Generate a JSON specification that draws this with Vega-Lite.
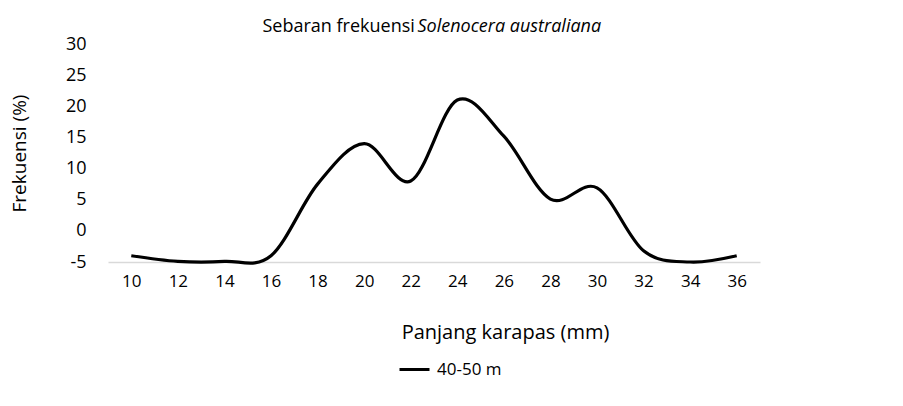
{
  "$schema": "https://vega.github.io/schema/vega-lite/v6.json",
  "autosize": {"type": "none"},
  "width": 652,
  "height": 218,
  "padding": {"left": 108, "top": 44, "right": 143, "bottom": 144},
  "background": "white",
  "config": {"view": {"stroke": null}},
  "data": {
    "values": [
      {"mm": 10, "pct": -4.0, "series": "40-50 m"},
      {"mm": 12, "pct": -4.9, "series": "40-50 m"},
      {"mm": 14, "pct": -4.9, "series": "40-50 m"},
      {"mm": 16, "pct": -4.0, "series": "40-50 m"},
      {"mm": 18, "pct": 7.5, "series": "40-50 m"},
      {"mm": 20, "pct": 14.0, "series": "40-50 m"},
      {"mm": 22, "pct": 8.0, "series": "40-50 m"},
      {"mm": 24, "pct": 21.0, "series": "40-50 m"},
      {"mm": 26, "pct": 15.2, "series": "40-50 m"},
      {"mm": 28, "pct": 5.1, "series": "40-50 m"},
      {"mm": 30, "pct": 6.9, "series": "40-50 m"},
      {"mm": 32, "pct": -3.2, "series": "40-50 m"},
      {"mm": 34, "pct": -5.0, "series": "40-50 m"},
      {"mm": 36, "pct": -4.0, "series": "40-50 m"}
    ]
  },
  "resolve": {"axis": {"x": "independent", "y": "independent"}},
  "layer": [
    {
      "mark": {"type": "line", "interpolate": "cardinal", "tension": 0, "strokeWidth": 3.2},
      "encoding": {
        "x": {
          "field": "mm",
          "type": "quantitative",
          "scale": {"domain": [9, 37], "nice": false, "zero": false},
          "axis": {
            "title": "Panjang karapas (mm)",
            "values": [10, 12, 14, 16, 18, 20, 22, 24, 26, 28, 30, 32, 34, 36],
            "grid": false,
            "ticks": false,
            "domainColor": "#d9d9d9",
            "domainWidth": 1.5,
            "labelFont": "Open Sans",
            "labelFontSize": 17,
            "labelColor": "#000000",
            "labelPadding": 11,
            "labelOverlap": false,
            "titleFont": "Open Sans",
            "titleFontSize": 20,
            "titleFontWeight": "normal",
            "titleColor": "#000000",
            "titleAlign": "center",
            "titleBaseline": "alphabetic",
            "titleX": 397,
            "titleY": 76
          }
        },
        "y": {
          "field": "pct",
          "type": "quantitative",
          "scale": {"domain": [-5, 30], "nice": false, "zero": false},
          "axis": {
            "title": "Frekuensi (%)",
            "values": [-5, 0, 5, 10, 15, 20, 25, 30],
            "labelExpr": "'' + datum.value",
            "labelOverlap": false,
            "grid": false,
            "ticks": false,
            "domain": false,
            "labelFont": "Open Sans",
            "labelFontSize": 18,
            "labelColor": "#000000",
            "labelPadding": 22,
            "titleFont": "Open Sans",
            "titleFontSize": 19,
            "titleFontWeight": "normal",
            "titleColor": "#000000",
            "titlePadding": 36
          }
        },
        "color": {
          "field": "series",
          "type": "nominal",
          "scale": {"range": ["#000000"]},
          "legend": {
            "title": null,
            "orient": "none",
            "legendX": 290,
            "legendY": 309,
            "direction": "horizontal",
            "symbolType": "stroke",
            "symbolSize": 900,
            "symbolStrokeWidth": 3,
            "labelFont": "Open Sans",
            "labelFontSize": 17,
            "labelColor": "#000000",
            "labelOffset": 6
          }
        }
      }
    },
    {
      "mark": {"type": "point", "opacity": 0},
      "encoding": {
        "x": {
          "field": "mm",
          "type": "quantitative",
          "axis": {
            "orient": "top",
            "title": "Sebaran frekuensi",
            "labels": false,
            "ticks": false,
            "domain": false,
            "grid": false,
            "titleFont": "Open Sans",
            "titleFontSize": 18,
            "titleFontWeight": "normal",
            "titleColor": "#000000",
            "titleAlign": "left",
            "titleAnchor": "start",
            "titleBaseline": "alphabetic",
            "titleX": 154,
            "titleY": -13
          }
        },
        "y": {"field": "pct", "type": "quantitative", "axis": null}
      }
    },
    {
      "mark": {"type": "point", "opacity": 0},
      "encoding": {
        "x": {"field": "mm", "type": "quantitative", "axis": null},
        "y": {
          "field": "pct",
          "type": "quantitative",
          "axis": {
            "orient": "right",
            "title": "Solenocera australiana",
            "labels": false,
            "ticks": false,
            "domain": false,
            "grid": false,
            "titleFont": "Open Sans",
            "titleFontSize": 18,
            "titleFontWeight": "normal",
            "titleFontStyle": "italic",
            "titleColor": "#000000",
            "titleAngle": 0,
            "titleAlign": "left",
            "titleAnchor": "start",
            "titleBaseline": "alphabetic",
            "titleX": -343,
            "titleY": -13
          }
        }
      }
    }
  ]
}
